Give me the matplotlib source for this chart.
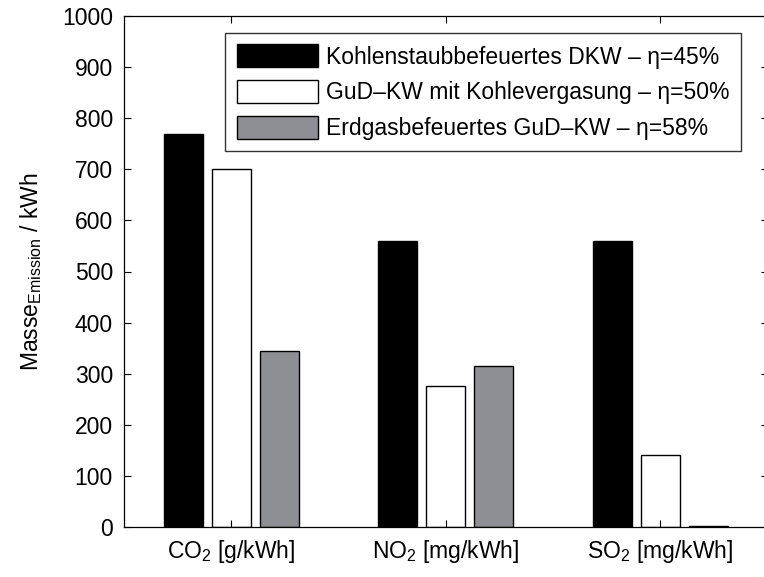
import numpy as np
import matplotlib
matplotlib.use("Agg")
import matplotlib.pyplot as plt

plt.rcParams['font.family'] = ['Liberation Sans', 'DejaVu Sans']
plt.rcParams['mathtext.fontset'] = 'custom'
plt.rcParams['mathtext.rm'] = 'Liberation Sans'
plt.rcParams['mathtext.it'] = 'Liberation Sans:italic'

categories = ['CO$_2$ [g/kWh]', 'NO$_2$ [mg/kWh]', 'SO$_2$ [mg/kWh]']
series_names = ['Kohlenstaubbefeuertes DKW – η=45%',
                'GuD–KW mit Kohlevergasung – η=50%',
                'Erdgasbefeuertes GuD–KW – η=58%']
kohle_dkw = [770, 560, 560]
gud_kohle = [700, 275, 140]
gud_erdgas = [345, 315, 2]
colors = ['black', 'white', '#8e8e95']

fs = 16.5
fig = plt.figure(figsize=(7.64, 5.77), dpi=100)
ax = fig.add_axes([124 / 764, 50 / 577, 643.5 / 764, 511 / 577])

x = np.arange(1, 4)
offs = [-0.224, 0, 0.224]
for vals, off, c, name in zip([kohle_dkw, gud_kohle, gud_erdgas], offs, colors, series_names):
    ax.bar(x + off, vals, width=0.182, color=c, edgecolor='black', linewidth=1.0, label=name)

ax.set_xlim(0.5, 3.5)
ax.set_ylim(0, 1000)
ax.set_yticks(np.arange(0, 1001, 100))
ax.set_xticks(x)
ax.set_xticklabels(categories)
ax.tick_params(direction='in', length=5, width=0.8, labelsize=fs,
               top=True, right=True, pad=8)
ax.set_ylabel('Masse$_{\\mathrm{Emission}}$ / kWh', fontsize=fs, labelpad=13)
for s in ax.spines.values():
    s.set_linewidth(0.9)

leg = ax.legend(loc='upper right', bbox_to_anchor=(0.9588, 0.9667), fontsize=fs,
                handlelength=3.55, handleheight=1.16, handletextpad=0.35,
                labelspacing=0.5, borderpad=0.5, borderaxespad=0,
                fancybox=False, framealpha=1)
leg.get_frame().set_edgecolor('#333333')
leg.get_frame().set_linewidth(1.0)

fig.savefig('out.png', dpi=100)
